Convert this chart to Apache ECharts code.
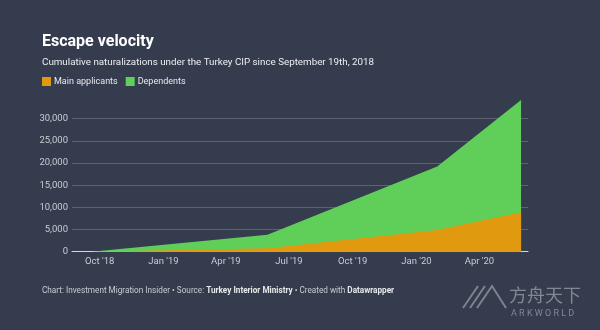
<!DOCTYPE html>
<html>
<head>
<meta charset="utf-8">
<script src="https://cdn.jsdelivr.net/npm/echarts@6/dist/echarts.min.js"></script>
<style>
html,body{margin:0;padding:0;background:#343c4e;}
#c{width:600px;height:330px;}
</style>
</head>
<body>
<div id="c"></div>
<script>
// ---- data ----
const dates = ['2018-09-19', '2019-05-31', '2020-01-31', '2020-05-31'];
const mainApplicants = [0, 800, 4900, 8900];
const dependents = [0, 3000, 14300, 25300];
const xTickDates = ['2018-10-01', '2019-01-01', '2019-04-01', '2019-07-01', '2019-10-01', '2020-01-01', '2020-04-01'];
const xTickLabels = ["Oct '18", "Jan '19", "Apr '19", "Jul '19", "Oct '19", "Jan '20", "Apr '20"];
const yTicks = [0, 5000, 10000, 15000, 20000, 25000, 30000];

const FONT = 'Roboto';
const ORANGE = '#e19a10', GREEN = '#60cf59';
const ts = d => new Date(d + 'T00:00:00Z').getTime();
const tickTs = xTickDates.map(ts);
const labelFor = {};
tickTs.forEach((t, i) => labelFor[t] = xTickLabels[i]);
// stacked top of the dependents band = main + dependents
const stackedTotal = mainApplicants.map((m, i) => m + dependents[i]);

const chart = echarts.init(document.getElementById('c'), null, {renderer: 'canvas'});
chart.setOption({
  backgroundColor: '#343c4e',
  animation: false,
  textStyle: {fontFamily: FONT},
  grid: {left: 72, right: 72, top: 118.7, bottom: 78.3},
  xAxis: {
    type: 'value',
    min: ts('2018-08-22'),
    max: ts('2020-06-10'),
    axisLine: {show: true, lineStyle: {color: '#d6d8dc', width: 1}},
    axisTick: {show: false},
    splitLine: {show: false},
    axisLabel: {
      customValues: tickTs,
      formatter: v => labelFor[v] || '',
      color: '#c9ccd2', fontSize: 9.5, margin: 5, fontFamily: FONT
    }
  },
  yAxis: {
    type: 'value',
    min: yTicks[0], max: yTicks[yTicks.length - 1], interval: yTicks[1] - yTicks[0],
    axisLine: {show: false},
    axisTick: {show: false},
    splitLine: {lineStyle: {color: '#5b6372', width: 1}},
    axisLabel: {
      color: '#c9ccd2', fontSize: 9.5, margin: 4, fontFamily: FONT,
      formatter: v => v.toLocaleString('en-US')
    }
  },
  series: [
    {
      name: 'Dependents', type: 'line', clip: false,
      symbol: 'none', lineStyle: {width: 0},
      areaStyle: {color: GREEN, opacity: 1},
      data: dates.map((d, i) => [ts(d), stackedTotal[i]]),
      z: 2
    },
    {
      name: 'Main applicants', type: 'line', clip: false,
      symbol: 'none', lineStyle: {width: 0},
      areaStyle: {color: ORANGE, opacity: 1},
      data: dates.map((d, i) => [ts(d), mainApplicants[i]]),
      z: 3
    }
  ],
  legend: {
    show: true, left: 42, top: 77, padding: 0, itemWidth: 9, itemHeight: 9, itemGap: 8,
    icon: 'rect',
    textStyle: {color: '#e8e9ec', fontSize: 9, fontFamily: FONT, padding: [0, 0, 0, -2]},
    data: [
      {name: 'Main applicants', itemStyle: {color: ORANGE}},
      {name: 'Dependents', itemStyle: {color: GREEN}}
    ],
    selectedMode: false
  },
  graphic: [
    {type: 'text', left: 42, top: 34, style: {text: 'Escape velocity', fill: '#ffffff', font: 'bold 16px ' + FONT}},
    {type: 'text', left: 42, top: 58, style: {text: 'Cumulative naturalizations under the Turkey CIP since September 19th, 2018', fill: '#eceef1', font: '9.8px ' + FONT}},
    {type: 'text', left: 42, top: 287, style: {
      text: '{n|Chart: Investment Migration Insider • Source: }{b|Turkey Interior Ministry}{n| • Created with }{b|Datawrapper}',
      rich: {
        n: {fill: '#c9ccd2', fontSize: 8.2, fontFamily: FONT},
        b: {fill: '#e6e8eb', fontSize: 8.2, fontFamily: FONT, fontWeight: 'bold'}
      }
    }},
    // watermark
    {type: 'polyline', shape: {points: [[463, 308], [478, 286]]}, style: {stroke: 'rgba(150,155,165,0.75)', lineWidth: 2}},
    {type: 'polyline', shape: {points: [[470, 308], [485, 286]]}, style: {stroke: 'rgba(150,155,165,0.75)', lineWidth: 2}},
    {type: 'polyline', shape: {points: [[477, 308], [492, 286], [506, 308]]}, style: {stroke: 'rgba(150,155,165,0.75)', lineWidth: 2, fill: null}},
    {type: 'text', left: 509, top: 286, style: {text: '方舟天下', fill: 'rgba(150,155,165,0.8)', font: '18px "Noto Sans CJK SC"'}},
    {type: 'text', left: 511, top: 309, style: {text: 'A R K W O R L D', fill: 'rgba(150,155,165,0.8)', font: '9px ' + FONT}}
  ]
});
</script>
</body>
</html>
